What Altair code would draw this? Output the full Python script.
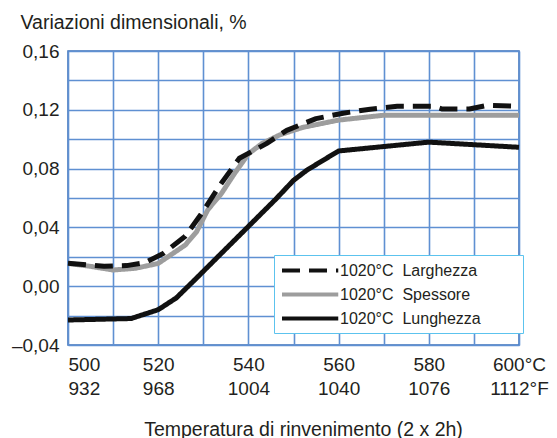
import altair as alt
import pandas as pd

# ---- data ----
SERIES = ["1020°C\u00a0\u00a0Larghezza", "1020°C\u00a0\u00a0Spessore", "1020°C\u00a0\u00a0Lunghezza"]

LARG_T = [500, 508, 513, 517, 521, 526, 529.5, 534, 538, 544, 548.5, 555, 561, 567, 573, 581, 583, 589, 593, 600]
LARG_V = [0.0156, 0.0136, 0.0140, 0.0160, 0.0220, 0.0340, 0.0490, 0.0700, 0.0870, 0.0970, 0.1060,
          0.1140, 0.1177, 0.1204, 0.1224, 0.1224, 0.1205, 0.1205, 0.1230, 0.1224]

SPES_T = [500, 505, 510, 515, 520, 526, 528.5, 531, 534, 537, 540, 543, 547, 552, 560, 570, 600]
SPES_V = [0.0155, 0.0135, 0.0110, 0.0122, 0.0155, 0.0280, 0.0370, 0.0520, 0.0630, 0.0770, 0.0900,
          0.0970, 0.1030, 0.1080, 0.1130, 0.1163, 0.1163]

LUNG_T = [500, 514, 520, 524, 528, 546, 550, 553, 560, 580, 600]
LUNG_V = [-0.0230, -0.0220, -0.0160, -0.0080, 0.0040, 0.0590, 0.0720, 0.0790, 0.0920, 0.0980, 0.0945]

X_GRID = [500, 510, 520, 530, 540, 550, 560, 570, 580, 590, 600]
X_LAB_C = ["500", "520", "540", "560", "580", "600°C"]
X_LAB_F = ["932", "968", "1004", "1040", "1076", "1112°F"]
X_LAB_AT = [500, 520, 540, 560, 580, 600]
Y_GRID = [-0.04, -0.02, 0.0, 0.02, 0.04, 0.06, 0.08, 0.10, 0.12, 0.14, 0.16]

COLORS = ["#111111", "#9d9d9d", "#111111"]
DASHES = [[18, 9], [1, 0], [1, 0]]

rows = []
for name, ts, vs in [(SERIES[0], LARG_T, LARG_V), (SERIES[1], SPES_T, SPES_V), (SERIES[2], LUNG_T, LUNG_V)]:
    for i, (t, v) in enumerate(zip(ts, vs)):
        rows.append({"serie": name, "t": t, "v": v, "i": i})
df = pd.DataFrame(rows)

parts = []
for at, c, f in zip(X_LAB_AT, X_LAB_C, X_LAB_F):
    parts.append(f"datum.value == {at} ? ['{c}', '{f}']")
x_label_expr = " : ".join(parts) + " : ''"

y_label_expr = ("abs(round(datum.value * 100)) % 4 == 0 ? "
                "((datum.value < -0.001 ? '\u2013' : '') + replace(format(abs(datum.value), '.2f'), '.', ',')) : ''")

FONT = "Liberation Sans"
TXT = "#231f20"

x = alt.X("t:Q", scale=alt.Scale(domain=[500, 600], nice=False, zero=False),
          axis=alt.Axis(values=X_GRID, labelExpr=x_label_expr, ticks=False, domain=False,
                        labelFontSize=19, labelLineHeight=24, labelPadding=10, labelBaseline="top",
                        labelAlign={"condition": {"test": "datum.value == 500", "value": "left"}, "value": "center"},
                        labelFlush=False, labelOverlap=False, labelColor=TXT, labelFont=FONT,
                        title="Temperatura di rinvenimento (2 x 2h)", titleFontSize=19.5, titleFontWeight="normal",
                        titleFont=FONT, titleColor=TXT, titleX=235, titleY=90, titleBaseline="alphabetic",
                        titleAlign="center"))
y = alt.Y("v:Q", scale=alt.Scale(domain=[-0.04, 0.16], nice=False, zero=False),
          axis=alt.Axis(values=Y_GRID, labelExpr=y_label_expr, ticks=False, domain=False,
                        labelFontSize=19, labelPadding=9, labelColor=TXT, labelFont=FONT,
                        labelOverlap=False, labelFlush=False,
                        title="Variazioni dimensionali, %", titleAngle=0, titleAlign="left",
                        titleBaseline="alphabetic", titleX=-48, titleY=-23, titleFontSize=19.5,
                        titleFontWeight="normal", titleFont=FONT, titleColor=TXT))

legend = alt.Legend(title=None, orient="none", legendX=206, legendY=204, direction="vertical",
                    fillColor="white", strokeColor="#5cc3ee", padding=6,
                    symbolType="M-1,0H6.5", symbolSize=225, symbolStrokeWidth=4,
                    labelFontSize=16, labelFont=FONT, labelColor=TXT, labelOffset=41, labelLimit=400,
                    rowPadding=6,
                    labelExpr="datum.label + '\u2800\u2800\u2800'")

color = alt.Color("serie:N", scale=alt.Scale(domain=SERIES, range=COLORS), legend=legend)
dash = alt.StrokeDash("serie:N", scale=alt.Scale(domain=SERIES, range=DASHES), legend=legend)

base = alt.Chart(df).mark_line(strokeWidth=5, strokeCap="butt", strokeJoin="round").encode(
    x=x, y=y, color=color, strokeDash=dash, order="i:Q")

layers = [base.transform_filter(alt.datum.serie == s) for s in [SERIES[1], SERIES[0], SERIES[2]]]

chart = alt.layer(*layers).properties(
    width=451, height=294,
    autosize=alt.AutoSizeParams(type="none"),
    padding={"left": 68, "top": 51, "right": 38, "bottom": 93},
    background="white",
).configure_view(stroke="#3d70b8", strokeWidth=1.5).configure_axis(
    gridColor="#5f90d2", gridWidth=1.6, gridOpacity=1)

chart.save("out.html", embed_options={"renderer": "svg", "actions": False})
